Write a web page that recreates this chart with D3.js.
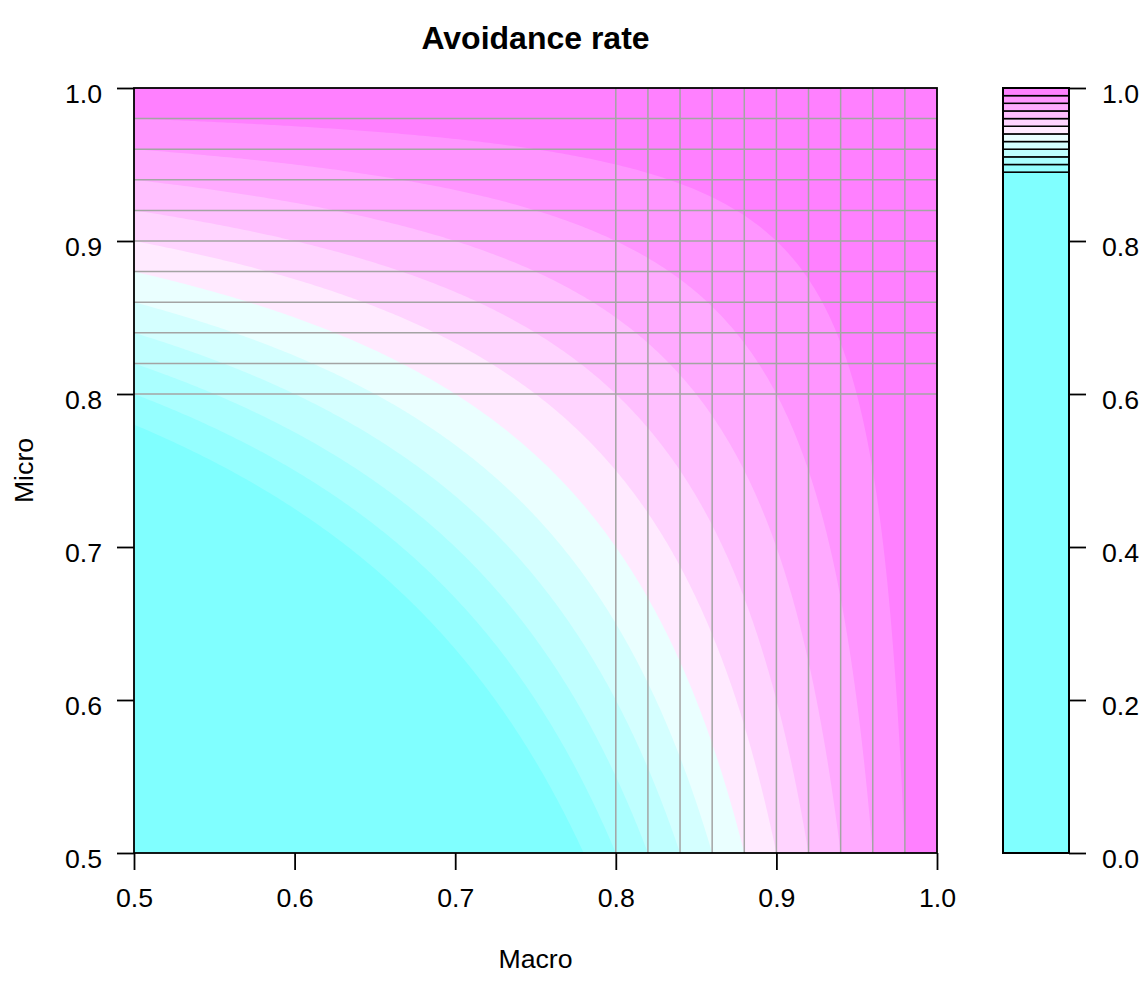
<!DOCTYPE html>
<html>
<head>
<meta charset="utf-8">
<script src="https://cdn.jsdelivr.net/npm/d3@7"></script>
<style>
  body { margin: 0; background: #ffffff; }
  text { font-family: "Liberation Sans", Arial, Helvetica, sans-serif; }
</style>
</head>
<body>
<svg id="chart" width="1147" height="988"></svg>
<script>
// ---------------- data ----------------
const macro = [0.50, 0.55, 0.60, 0.65, 0.70, 0.75, 0.80, 0.85, 0.90, 0.95, 1.00];
const micro = [0.50, 0.55, 0.60, 0.65, 0.70, 0.75, 0.80, 0.85, 0.90, 0.95, 1.00];
// avoidance rate, one row per micro value (bottom to top), one column per macro value
const avoidance = [
  [0.7500, 0.7750, 0.8000, 0.8250, 0.8500, 0.8750, 0.9000, 0.9250, 0.9500, 0.9750, 1.0000],
  [0.7750, 0.7975, 0.8200, 0.8425, 0.8650, 0.8875, 0.9100, 0.9325, 0.9550, 0.9775, 1.0000],
  [0.8000, 0.8200, 0.8400, 0.8600, 0.8800, 0.9000, 0.9200, 0.9400, 0.9600, 0.9800, 1.0000],
  [0.8250, 0.8425, 0.8600, 0.8775, 0.8950, 0.9125, 0.9300, 0.9475, 0.9650, 0.9825, 1.0000],
  [0.8500, 0.8650, 0.8800, 0.8950, 0.9100, 0.9250, 0.9400, 0.9550, 0.9700, 0.9850, 1.0000],
  [0.8750, 0.8875, 0.9000, 0.9125, 0.9250, 0.9375, 0.9500, 0.9625, 0.9750, 0.9875, 1.0000],
  [0.9000, 0.9100, 0.9200, 0.9300, 0.9400, 0.9500, 0.9600, 0.9700, 0.9800, 0.9900, 1.0000],
  [0.9250, 0.9325, 0.9400, 0.9475, 0.9550, 0.9625, 0.9700, 0.9775, 0.9850, 0.9925, 1.0000],
  [0.9500, 0.9550, 0.9600, 0.9650, 0.9700, 0.9750, 0.9800, 0.9850, 0.9900, 0.9950, 1.0000],
  [0.9750, 0.9775, 0.9800, 0.9825, 0.9850, 0.9875, 0.9900, 0.9925, 0.9950, 0.9975, 1.0000],
  [1.0000, 1.0000, 1.0000, 1.0000, 1.0000, 1.0000, 1.0000, 1.0000, 1.0000, 1.0000, 1.0000]
];
const levels = [0, 0.89, 0.90, 0.91, 0.92, 0.93, 0.94, 0.95, 0.96, 0.97, 0.98, 0.99, 1.00];
const bandColors = ["#80FFFF", "#95FFFF", "#AAFFFF", "#BFFFFF", "#D4FFFF", "#EAFFFF",
                    "#FFEAFF", "#FFD4FF", "#FFBFFF", "#FFAAFF", "#FF95FF", "#FF80FF"];
const xTicks = [0.5, 0.6, 0.7, 0.8, 0.9, 1.0];
const yTicks = [0.5, 0.6, 0.7, 0.8, 0.9, 1.0];
const legendTicks = [0.0, 0.2, 0.4, 0.6, 0.8, 1.0];
const gridMacro = [0.80, 0.82, 0.84, 0.86, 0.88, 0.90, 0.92, 0.94, 0.96, 0.98];
const gridMicro = [0.80, 0.82, 0.84, 0.86, 0.88, 0.90, 0.92, 0.94, 0.96, 0.98];
const titleText = "Avoidance rate";
const xLabel = "Macro";
const yLabel = "Micro";

// ---------------- layout ----------------
const svg = d3.select("#chart");
const L = 134, R = 937, T = 88, B = 853;
const LGL = 1003, LGR = 1069;
const FS = 26.7;

const x = d3.scaleLinear().domain([0.5, 1.0]).range([L, R]);
const y = d3.scaleLinear().domain([0.5, 1.0]).range([B, T]);

// rendering grid (bilinear shading of the data matrix)
const N = 241;
const nx = macro.length, ny = micro.length;
const gx = d3.scaleLinear().domain([0, N - 1]).range([macro[0], macro[nx - 1]]);
const gy = d3.scaleLinear().domain([0, N - 1]).range([micro[0], micro[ny - 1]]);
function shade(xv, yv) {
  const i = Math.min(nx - 2, Math.max(0, d3.bisectRight(macro, xv) - 1));
  const j = Math.min(ny - 2, Math.max(0, d3.bisectRight(micro, yv) - 1));
  const tx = (xv - macro[i]) / (macro[i + 1] - macro[i]);
  const ty = (yv - micro[j]) / (micro[j + 1] - micro[j]);
  const z00 = avoidance[j][i], z10 = avoidance[j][i + 1];
  const z01 = avoidance[j + 1][i], z11 = avoidance[j + 1][i + 1];
  return z00 * (1 - tx) * (1 - ty) + z10 * tx * (1 - ty) + z01 * (1 - tx) * ty + z11 * tx * ty;
}
const values = new Float64Array(N * N);
for (let j = 0; j < N; j++)
  for (let i = 0; i < N; i++)
    values[j * N + i] = shade(gx(i), gy(j));

const thresholds = levels.slice(1, -1);
const bands = d3.contours().size([N, N]).thresholds(thresholds)(values);
const proj = d3.geoTransform({
  point(px, py) { this.stream.point(x(gx(px - 0.5)), y(gy(py - 0.5))); }
});
const path = d3.geoPath(proj);

svg.append("defs").append("clipPath").attr("id", "plotclip")
  .append("rect").attr("x", L).attr("y", T).attr("width", R - L).attr("height", B - T);

const plot = svg.append("g").attr("clip-path", "url(#plotclip)");
plot.append("rect").attr("x", L).attr("y", T).attr("width", R - L).attr("height", B - T)
  .attr("fill", bandColors[0]);
plot.selectAll("path.band").data(bands).join("path")
  .attr("class", "band")
  .attr("d", path)
  .attr("fill", (d, k) => bandColors[k + 1])
  .attr("stroke", "none");

// grid lines
const grid = svg.append("g").attr("stroke", "#a4a4a4").attr("stroke-width", 1.5);
grid.selectAll("line.gv").data(gridMacro).join("line").attr("class", "gv")
  .attr("x1", d => x(d)).attr("x2", d => x(d)).attr("y1", y(0.5)).attr("y2", y(1.0));
grid.selectAll("line.gh").data(gridMicro).join("line").attr("class", "gh")
  .attr("y1", d => y(d)).attr("y2", d => y(d)).attr("x1", x(0.5)).attr("x2", x(1.0));

// frame
svg.append("rect").attr("x", L).attr("y", T).attr("width", R - L).attr("height", B - T)
  .attr("fill", "none").attr("stroke", "#000").attr("stroke-width", 1.8);

// axes
const fmt = d3.format(".1f");
const xAxis = svg.append("g").attr("transform", `translate(0,${B})`)
  .call(d3.axisBottom(x).tickValues(xTicks).tickFormat(fmt).tickSize(17).tickPadding(0).tickSizeOuter(0));
xAxis.select(".domain").remove();
xAxis.selectAll(".tick line").attr("stroke", "#000").attr("stroke-width", 1.8);
xAxis.selectAll(".tick text").attr("y", 0).attr("dy", 0).attr("transform", "translate(0,54)")
  .attr("font-size", FS).attr("fill", "#000").attr("font-family", null);

const yAxis = svg.append("g").attr("transform", `translate(${L},0)`)
  .call(d3.axisLeft(y).tickValues(yTicks).tickFormat(fmt).tickSize(17).tickPadding(0).tickSizeOuter(0));
yAxis.select(".domain").remove();
yAxis.selectAll(".tick line").attr("stroke", "#000").attr("stroke-width", 1.8);
yAxis.selectAll(".tick text").attr("x", -32).attr("dy", 0).attr("transform", "translate(0,14)")
  .attr("font-size", FS).attr("fill", "#000").attr("font-family", null);

// legend
const ly = d3.scaleLinear().domain([0, 1]).range([B, T]);
const legend = svg.append("g");
legend.selectAll("rect.key").data(bandColors).join("rect").attr("class", "key")
  .attr("x", LGL).attr("width", LGR - LGL)
  .attr("y", (d, k) => ly(levels[k + 1]))
  .attr("height", (d, k) => ly(levels[k]) - ly(levels[k + 1]))
  .attr("fill", d => d).attr("stroke", "#000").attr("stroke-width", 1.5);
legend.append("rect").attr("x", LGL).attr("y", T).attr("width", LGR - LGL).attr("height", B - T)
  .attr("fill", "none").attr("stroke", "#000").attr("stroke-width", 2);
const lAxis = svg.append("g").attr("transform", `translate(${LGR},0)`)
  .call(d3.axisRight(ly).tickValues(legendTicks).tickFormat(fmt).tickSize(17).tickPadding(0).tickSizeOuter(0));
lAxis.select(".domain").remove();
lAxis.selectAll(".tick line").attr("stroke", "#000").attr("stroke-width", 1.8);
lAxis.selectAll(".tick text").attr("x", 33).attr("dy", 0).attr("transform", "translate(0,14)")
  .attr("font-size", FS).attr("fill", "#000").attr("font-family", null);

// titles
svg.append("text").attr("x", (L + R) / 2).attr("y", 49).attr("text-anchor", "middle")
  .attr("font-size", 32).attr("font-weight", "bold").text(titleText);
svg.append("text").attr("x", (L + R) / 2).attr("y", 968).attr("text-anchor", "middle")
  .attr("font-size", FS).text(xLabel);
svg.append("text").attr("transform", `translate(33,${(T + B) / 2}) rotate(-90)`)
  .attr("text-anchor", "middle").attr("font-size", FS).text(yLabel);
</script>
</body>
</html>
